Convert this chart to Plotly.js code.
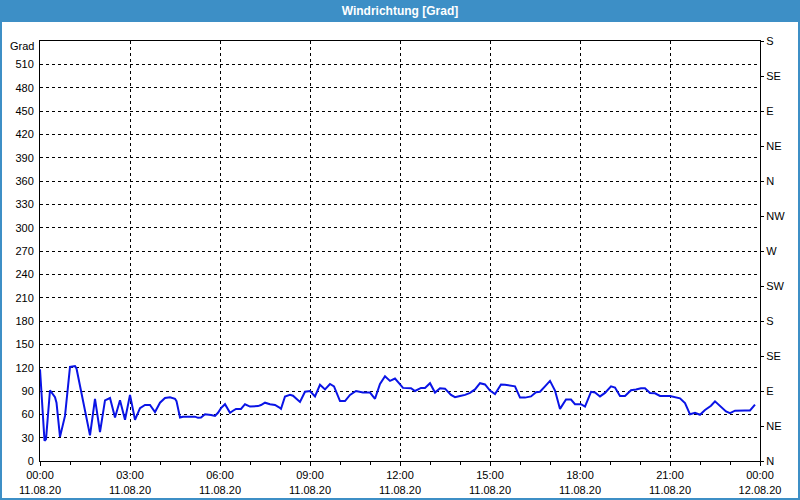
<!DOCTYPE html>
<html>
<head>
<meta charset="utf-8">
<script src="https://cdn.plot.ly/plotly-3.0.1.min.js"></script>
<style>
html,body{margin:0;padding:0;background:#fff;}
#chart{width:800px;height:500px;}
</style>
</head>
<body>
<div id="chart"></div>
<script>
// Minutes after 11.08.20 00:00
const minutes = [0,3,9,12,20,30,33,40,50,60,70,73,100,110,120,130,140,150,160,170,180,190,200,210,220,230,240,250,260,270,273,280,286,310,316,322,330,342,350,356,362,370,380,386,392,402,410,420,436,442,450,460,470,478,482,490,500,506,512,520,530,540,550,560,570,580,588,600,610,620,632,646,660,670,680,690,700,710,718,726,742,750,762,770,780,790,800,810,822,830,840,850,860,870,880,890,900,910,922,930,950,960,970,982,992,1000,1010,1020,1030,1040,1052,1062,1070,1082,1090,1102,1110,1120,1130,1142,1150,1160,1170,1182,1192,1202,1210,1220,1230,1240,1260,1270,1280,1290,1300,1310,1320,1330,1342,1350,1362,1372,1380,1390,1410,1420,1430];
// Wind direction in degrees
const direction = [118,82,26,28,91,82,75,31,58,121,122,119,33,80,37,78,81,56,78,53,85,53,68,72,72,63,75,81,82,80,77,56,57,57,55.5,56,60,59,58,62,68,73,62,64.6,67,67,73,70,70.6,72,75,73,72,69,67,83,85,84,80,76,89,90,83,98,92,99,96,77,77,85,90,88,88,80,99,109,103,106,100,94,93.5,90,94,94,100,88,93.5,93,85,82,83.6,85,87.5,92,100,98.4,90.6,86,98.4,98,96,81.5,81.5,83,88.4,89,96,103,90.6,67,79,79,73,73,70,89,88,83,87.5,96,94.4,83.6,83.6,91,92,93.5,93.5,87.5,87,83.6,83.6,82,80.6,74.5,60,62,59.4,65.5,71,76.7,70,63.7,61.5,64.7,65,65,72.4];

const tickTimes = ['2020-08-11 00:00','2020-08-11 03:00','2020-08-11 06:00','2020-08-11 09:00','2020-08-11 12:00','2020-08-11 15:00','2020-08-11 18:00','2020-08-11 21:00','2020-08-12 00:00'];
const tickLabels = ['00:00<br>11.08.20','03:00<br>11.08.20','06:00<br>11.08.20','09:00<br>11.08.20','12:00<br>11.08.20','15:00<br>11.08.20','18:00<br>11.08.20','21:00<br>11.08.20','00:00<br>12.08.20'];
const degreeTicks = [0,30,60,90,120,150,180,210,240,270,300,330,360,390,420,450,480,510];
const compassTicks = [0,45,90,135,180,225,270,315,360,405,450,495,540];
const compassLabels = ['N','NE','E','SE','S','SW','W','NW','N','NE','E','SE','S'];

function pad(n){return (n<10?'0':'')+n;}
const xs = minutes.map(m => {
  const d = Math.floor(m/1440), h = Math.floor((m%1440)/60), mi = m%60;
  return '2020-08-' + pad(11+d) + ' ' + pad(h) + ':' + pad(mi);
});

const font = {family:'"Liberation Sans", Arial, sans-serif', size:11, color:'#000'};
const blue = '#3d8fc6';

const traces = [
  {x: xs, y: direction, type:'scatter', mode:'lines', line:{color:'#0a14e6', width:2}, hoverinfo:'x+y', showlegend:false},
  {x: [xs[0]], y: [null], yaxis:'y2', type:'scatter', mode:'lines', showlegend:false, hoverinfo:'skip'}
];

const layout = {
  width:800, height:500,
  margin:{l:40, r:40, t:41, b:39},
  paper_bgcolor:'#fff', plot_bgcolor:'#fff',
  font: font,
  showlegend:false,
  title:{text:'Windrichtung [Grad]', font:{family:'"Liberation Sans", Arial, sans-serif', size:12, color:'#fff', weight:'bold'}, x:0.5, xanchor:'center', yref:'container', y:1-11/500, yanchor:'middle'},
  xaxis:{
    type:'date', range:['2020-08-11 00:00','2020-08-12 00:00'],
    tickmode:'array', tickvals:tickTimes, ticktext:tickLabels,
    ticks:'outside', ticklen:4, tickcolor:'#000',
    showline:true, linecolor:'#000', linewidth:1, mirror:true,
    showgrid:true, gridcolor:'#000', gridwidth:1, griddash:'3px,3px',
    zeroline:false, tickfont:font,
    minor:{dtick:3600000, ticks:'outside', ticklen:3, tickcolor:'#000', showgrid:false}
  },
  yaxis:{
    range:[0,540], tickmode:'array', tickvals:degreeTicks,
    ticks:'', showline:true, linecolor:'#000', linewidth:1, mirror:true,
    showgrid:true, gridcolor:'#000', gridwidth:1, griddash:'3px,3px',
    zeroline:false, tickfont:font, ticklabelstandoff:3
  },
  yaxis2:{
    overlaying:'y', side:'right', range:[0,540], tickmode:'array',
    tickvals:compassTicks, ticktext:compassLabels,
    ticks:'outside', ticklen:3, tickcolor:'#000',
    showline:true, linecolor:'#000', showgrid:false, zeroline:false, tickfont:font
  },
  annotations:[
    {text:'Grad', xref:'paper', yref:'paper', x:-4/720, y:(461-46)/420, xanchor:'right', yanchor:'middle', showarrow:false, font:font}
  ],
  shapes:[
    {type:'rect', xref:'paper', yref:'paper', x0:-40/720, x1:760/720, y0:(461-22)/420, y1:461/420, fillcolor:blue, line:{width:0}, layer:'below'},
    {type:'rect', xref:'paper', yref:'paper', x0:-40/720, x1:-38/720, y0:-39/420, y1:461/420, fillcolor:blue, line:{width:0}, layer:'below'},
    {type:'rect', xref:'paper', yref:'paper', x0:758/720, x1:760/720, y0:-39/420, y1:461/420, fillcolor:blue, line:{width:0}, layer:'below'},
    {type:'rect', xref:'paper', yref:'paper', x0:-40/720, x1:760/720, y0:-39/420, y1:-37/420, fillcolor:blue, line:{width:0}, layer:'below'}
  ]
};

Plotly.newPlot('chart', traces, layout, {displayModeBar:false, staticPlot:true});
</script>
</body>
</html>
